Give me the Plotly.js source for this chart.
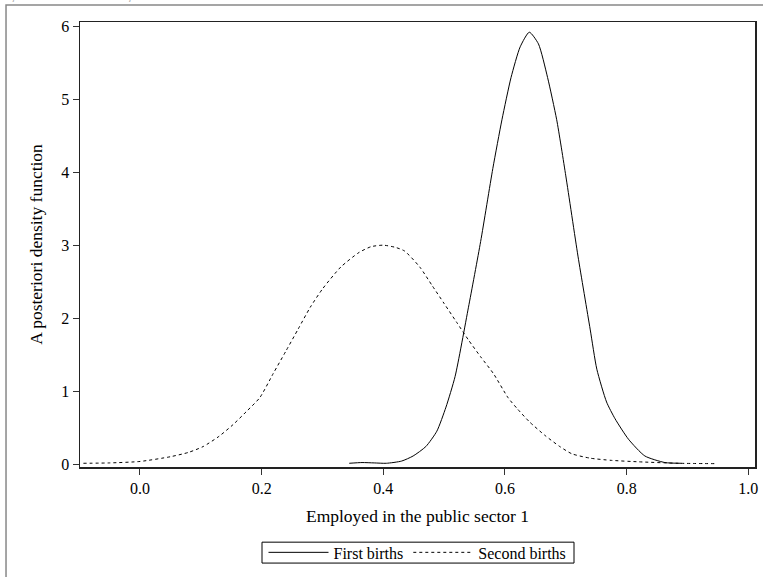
<!DOCTYPE html>
<html>
<head>
<meta charset="utf-8">
<script src="https://cdn.plot.ly/plotly-3.0.1.min.js"></script>
<style>
  html, body { margin: 0; padding: 0; background: #fff; }
  #chart { width: 763px; height: 577px; }
</style>
</head>
<body>
<div id="chart"></div>
<script>
// First births (solid)
const firstX = [0.344, 0.365, 0.385, 0.405, 0.43, 0.449, 0.47, 0.488, 0.503, 0.518, 0.54, 0.56, 0.58, 0.595, 0.61, 0.625, 0.64, 0.655, 0.67, 0.685, 0.70, 0.72, 0.74, 0.751, 0.767, 0.781, 0.803, 0.83, 0.863, 0.89];
const firstY = [0.01, 0.02, 0.015, 0.01, 0.04, 0.11, 0.24, 0.45, 0.78, 1.2, 2.15, 3.05, 4.05, 4.72, 5.3, 5.72, 5.92, 5.76, 5.3, 4.72, 3.95, 2.85, 1.85, 1.3, 0.85, 0.62, 0.34, 0.11, 0.02, 0.01];

// Second births (dotted)
const secondX = [-0.093, -0.05, 0.0, 0.05, 0.08, 0.104, 0.13, 0.153, 0.175, 0.197, 0.219, 0.24, 0.26, 0.28, 0.30, 0.33, 0.36, 0.38, 0.40, 0.42, 0.435, 0.46, 0.48, 0.50, 0.52, 0.54, 0.56, 0.581, 0.605, 0.62, 0.64, 0.666, 0.69, 0.71, 0.74, 0.775, 0.82, 0.885, 0.946];
const secondY = [0.01, 0.015, 0.035, 0.1, 0.16, 0.24, 0.38, 0.54, 0.72, 0.91, 1.24, 1.55, 1.85, 2.15, 2.4, 2.7, 2.9, 2.98, 3.0, 2.97, 2.92, 2.7, 2.45, 2.2, 1.95, 1.7, 1.47, 1.24, 0.91, 0.76, 0.58, 0.39, 0.24, 0.14, 0.08, 0.05, 0.03, 0.01, 0.005];

const seriesNames = ["First births", "Second births"];
const xTickVals = [0.0, 0.2, 0.4, 0.6, 0.8, 1.0];
const xTickText = ["0.0", "0.2", "0.4", "0.6", "0.8", "1.0"];
const yTickVals = [0, 1, 2, 3, 4, 5, 6];
const xTitle = "Employed in the public sector 1";
const yTitle = "A posteriori density function";
const topNote = "e, data from GGS, Poland";

const serif = "Liberation Serif, Times New Roman, serif";

const traces = [
  {
    x: firstX, y: firstY, name: seriesNames[0], type: "scatter", mode: "lines",
    line: { color: "#000", width: 1, shape: "spline", smoothing: 0.6 }
  },
  {
    x: secondX, y: secondY, name: seriesNames[1], type: "scatter", mode: "lines",
    line: { color: "#000", width: 1, dash: "dot", shape: "spline", smoothing: 0.6 }
  }
];

const layout = {
  width: 763, height: 577,
  margin: { l: 80, r: 8, t: 22, b: 108 },
  paper_bgcolor: "#fff", plot_bgcolor: "#fff",
  font: { family: serif, size: 15, color: "#000" },
  showlegend: true,
  legend: {
    orientation: "h", x: 0.5, xanchor: "center", y: -0.192, yanchor: "middle",
    borderwidth: 0, bgcolor: "rgba(0,0,0,0)",
    font: { family: serif, size: 16, color: "#000" },
    itemwidth: 60, tracegroupgap: 0
  },
  xaxis: {
    range: [-0.0986, 1.011], tickvals: xTickVals, ticktext: xTickText,
    ticks: "outside", ticklen: 6, tickcolor: "#333", tickwidth: 1,
    showline: true, linecolor: "#222", linewidth: 1.5, mirror: true,
    showgrid: false, zeroline: false,
    tickfont: { family: serif, size: 16, color: "#000" },
    title: { text: xTitle, font: { family: serif, size: 17.5, color: "#000" }, standoff: 14 }
  },
  yaxis: {
    range: [-0.041, 6.06], tickvals: yTickVals,
    ticks: "outside", ticklen: 6, tickcolor: "#333", tickwidth: 1,
    showline: true, linecolor: "#222", linewidth: 1.5, mirror: true,
    showgrid: false, zeroline: false,
    tickfont: { family: serif, size: 16, color: "#000" },
    title: { text: yTitle, font: { family: serif, size: 17.5, color: "#000" }, standoff: 14 }
  },
  shapes: [
    { type: "rect", xref: "paper", yref: "paper", x0: -0.1096, x1: 1.05, y0: -0.3, y1: 1.038,
      line: { color: "#888", width: 1.5 }, fillcolor: "rgba(0,0,0,0)", layer: "below" },
    // legend frame
    { type: "rect", xref: "paper", yref: "paper",
      x0: (262 - 80) / 675, x1: (574 - 80) / 675,
      y0: -(565.5 - 469) / 447, y1: -(544.5 - 469) / 447,
      line: { color: "#000", width: 1 }, fillcolor: "rgba(0,0,0,0)" }
  ],
  annotations: [
    { xref: "paper", yref: "paper", x: -0.1185, xanchor: "left", y: 1.061, yanchor: "middle",
      text: topNote, showarrow: false,
      font: { family: "Liberation Sans, Arial, sans-serif", size: 16, color: "#aaa" } }
  ]
};

Plotly.newPlot("chart", traces, layout, { displayModeBar: false, staticPlot: true });
</script>
</body>
</html>
